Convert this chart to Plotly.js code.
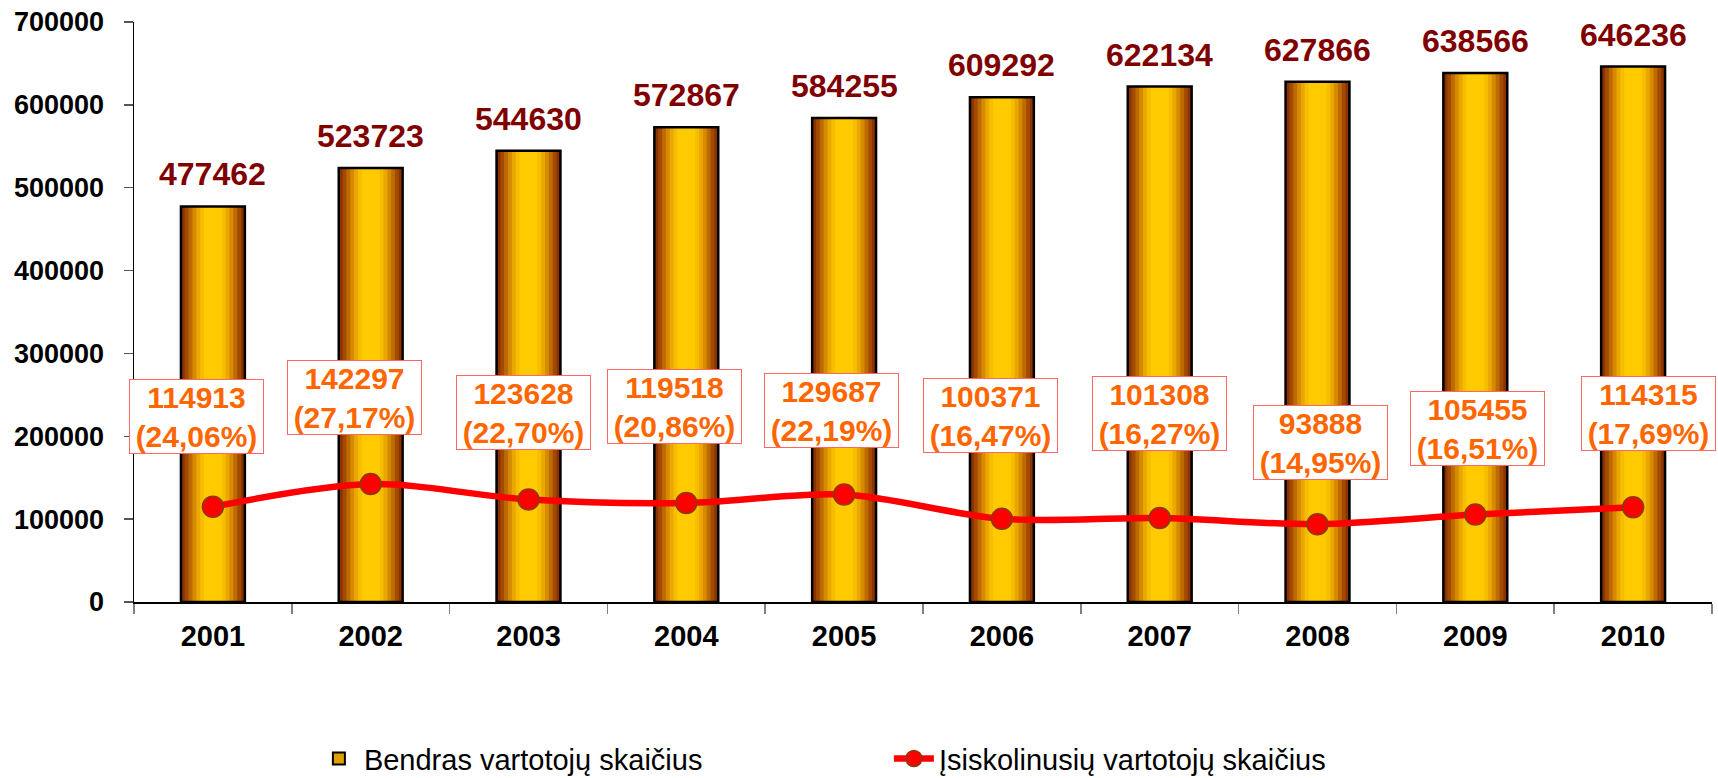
<!DOCTYPE html>
<html>
<head>
<meta charset="utf-8">
<script src="https://cdn.plot.ly/plotly-3.0.1.min.js"></script>
<style>
  html, body { margin: 0; padding: 0; background: #fff; }
  #plot { width: 1718px; height: 778px; }
</style>
</head>
<body>
<div id="plot"></div>
<script>
// data
var years = ['2001', '2002', '2003', '2004', '2005', '2006', '2007', '2008', '2009', '2010'];
var totalUsers = [477462, 523723, 544630, 572867, 584255, 609292, 622134, 627866, 638566, 646236];
var indebtedUsers = [114913, 142297, 123628, 119518, 129687, 100371, 101308, 93888, 105455, 114315];
var indebtedShare = ['24,06%', '27,17%', '22,70%', '20,86%', '22,19%', '16,47%', '16,27%', '14,95%', '16,51%', '17,69%'];

var totalName = 'Bendras vartotojų skaičius';
var indebtedName = 'Įsiskolinusių vartotojų skaičius';

// where each orange box sits relative to its point (px)
var labelLift = [90, 87, 87, 96, 84, 103, 105, 82, 86, 94];
var labelShift = [-16, -16, -5, -12, -13, -11, 0, 3, 2, 15];

var FONT = 'Liberation Sans, Arial, sans-serif';
var barWidth = 0.405;

// fake the cylinder look: narrower & lighter bars stacked on top of each other
var shades = [
  [1.00, '#8a3300'],
  [0.88, '#a24a00'],
  [0.76, '#bd6a00'],
  [0.64, '#d68a00'],
  [0.52, '#eaa700'],
  [0.40, '#f7bd00'],
  [0.28, '#ffcb00']
];

var traces = [];

// legend entry for the bars (draws nothing)
traces.push({
  type: 'bar',
  x: years,
  y: years.map(function () { return null; }),
  name: totalName,
  marker: {color: '#e0a000', line: {color: '#000', width: 2}},
  hoverinfo: 'skip'
});

shades.forEach(function (s) {
  traces.push({
    type: 'bar',
    x: years,
    y: totalUsers,
    width: barWidth * s[0],
    marker: {color: s[1], line: {width: 0}},
    showlegend: false,
    hoverinfo: 'skip'
  });
});

// black outline on top
traces.push({
  type: 'bar',
  x: years,
  y: totalUsers,
  width: barWidth,
  marker: {color: 'rgba(0,0,0,0)', line: {color: '#000', width: 2.5}},
  showlegend: false,
  hoverinfo: 'x+y'
});

traces.push({
  type: 'scatter',
  mode: 'lines+markers',
  x: years,
  y: indebtedUsers,
  name: indebtedName,
  line: {color: '#ff0000', width: 6.5, shape: 'spline', smoothing: 0.9},
  marker: {color: '#ff0000', size: 21, line: {color: '#8b3a0f', width: 1.5}},
  cliponaxis: false
});

// annotations on a category axis: use the category index
var annotations = [];
years.forEach(function (yr, i) {
  annotations.push({
    x: i, y: totalUsers[i],
    text: String(totalUsers[i]),
    showarrow: false,
    yanchor: 'bottom',
    yshift: 12,
    font: {family: FONT, size: 32, color: '#800000', weight: 'bold'}
  });
  annotations.push({
    x: i, y: indebtedUsers[i],
    text: indebtedUsers[i] + '<br>(' + indebtedShare[i] + ')',
    showarrow: false,
    yanchor: 'middle',
    yshift: labelLift[i],
    xshift: labelShift[i],
    width: 133,
    height: 73,
    borderpad: 0,
    bgcolor: '#ffffff',
    bordercolor: '#ff6666',
    borderwidth: 1,
    font: {family: FONT, size: 30, color: '#ff6600', weight: 'bold'}
  });
});

var layout = {
  width: 1718,
  height: 778,
  margin: {l: 134, r: 6, t: 22, b: 176, autoexpand: false},
  paper_bgcolor: '#ffffff',
  plot_bgcolor: '#ffffff',
  barmode: 'overlay',
  showlegend: true,
  legend: {
    orientation: 'h',
    x: 0.114, xanchor: 'left',
    y: -0.27, yanchor: 'middle',
    entrywidth: 520,
    font: {family: FONT, size: 29, color: '#000'},
    itemwidth: 40
  },
  xaxis: {
    type: 'category',
    range: [-0.5, 9.5],
    autorange: false,
    showline: true,
    linecolor: '#000',
    linewidth: 1.5,
    ticks: 'outside',
    tickson: 'boundaries',
    ticklen: 10,
    tickcolor: '#808080',
    tickwidth: 1.5,
    tickangle: 0,
    ticklabelstandoff: 8,
    showgrid: false,
    tickfont: {family: FONT, size: 29, color: '#000', weight: 'bold'}
  },
  yaxis: {
    range: [0, 700000],
    autorange: false,
    dtick: 100000,
    tickformat: 'd',
    showline: true,
    linecolor: '#000',
    linewidth: 1.5,
    ticks: 'outside',
    ticklen: 9,
    tickcolor: '#555',
    tickwidth: 1.5,
    ticklabelstandoff: 14,
    showgrid: false,
    zeroline: false,
    tickfont: {family: FONT, size: 27, color: '#000', weight: 'bold'}
  },
  // second copy of the y axis only for the inner half of the crossing ticks
  yaxis2: {
    overlaying: 'y',
    side: 'left',
    range: [0, 700000],
    autorange: false,
    dtick: 100000,
    ticks: 'inside',
    ticklen: 9,
    tickcolor: '#555',
    tickwidth: 1.5,
    showticklabels: false,
    showline: false,
    showgrid: false,
    zeroline: false
  },
  annotations: annotations
};

Plotly.newPlot('plot', traces, layout, {displayModeBar: false, staticPlot: true});
</script>
</body>
</html>
